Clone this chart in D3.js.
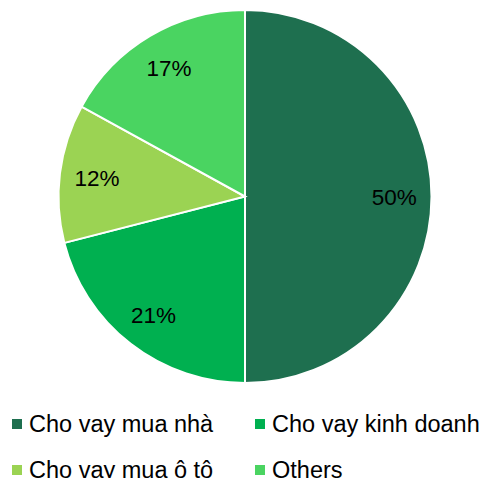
<!DOCTYPE html>
<html>
<head>
<meta charset="utf-8">
<script src="https://cdn.jsdelivr.net/npm/d3@7"></script>
<style>
  body { margin: 0; background: #fff; }
  svg { display: block; font-family: "Liberation Sans", Arial, sans-serif; }
</style>
</head>
<body>
<div id="chart"></div>
<script>
// data
let categories = ["Cho vay mua nhà", "Cho vay kinh doanh", "Cho vay mua ô tô", "Others"]
let shares = [50, 21, 12, 17]
let colors = ["#1E6F4F", "#00B050", "#9BD353", "#4AD461"]

let width = 484,
    height = 478

let cx = 245,
    cy = 196.5,
    radius = 186.5

let svg = d3.select("#chart")
    .append("svg")
    .attr("width", width)
    .attr("height", height)

let color = d3.scaleOrdinal()
    .domain(categories)
    .range(colors)

let pie = d3.pie()
    .sort(null)
    .value(function (d) { return d.value })

let data = categories.map(function (c, i) {
    return { name: c, value: shares[i] }
})

let arc = d3.arc()
    .innerRadius(0)
    .outerRadius(radius)

let labelArc = d3.arc()
    .innerRadius(radius * 0.8)
    .outerRadius(radius * 0.8)

let g = svg.append("g")
    .attr("transform", "translate(" + cx + "," + cy + ")")

let slices = g.selectAll("g.slice")
    .data(pie(data))
    .enter()
    .append("g")
    .attr("class", "slice")

slices.append("path")
    .attr("d", arc)
    .attr("fill", function (d) { return color(d.data.name) })
    .attr("stroke", "#fff")
    .attr("stroke-width", 2)

slices.append("text")
    .attr("transform", function (d) {
        return "translate(" + labelArc.centroid(d) + ")"
    })
    .attr("text-anchor", "middle")
    .attr("dy", "0.36em")
    .attr("font-size", 22.5)
    .attr("fill", "#000")
    .text(function (d) { return d.data.value + "%" })

// legend, two columns
let legend = svg.append("g")
    .selectAll("g")
    .data(categories)
    .enter()
    .append("g")
    .attr("transform", function (d, i) {
        return "translate(" + (12 + (i % 2) * 243) + "," + (419 + Math.floor(i / 2) * 46) + ")"
    })

legend.append("rect")
    .attr("width", 10)
    .attr("height", 10)
    .attr("fill", function (d) { return color(d) })

legend.append("text")
    .attr("x", 17)
    .attr("y", 13)
    .attr("font-size", 23.5)
    .attr("fill", "#000")
    .text(function (d) { return d })
</script>
</body>
</html>
